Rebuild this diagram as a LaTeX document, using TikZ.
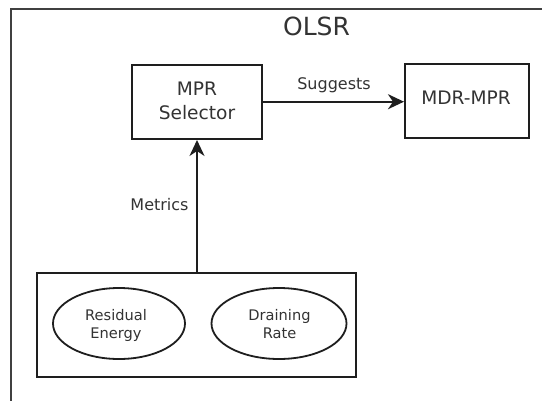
\documentclass[tikz,border=0pt]{standalone}
\usepackage{fontspec}
\setmainfont{DejaVu Sans}
\usetikzlibrary{arrows.meta,calc,shapes.geometric}
\definecolor{linec}{HTML}{1E1E1E}
\definecolor{textc}{HTML}{333333}
\begin{document}
\begin{tikzpicture}[x=1pt,y=-1pt,
  box/.style={draw=linec, line width=2pt, inner sep=0pt},
  oval/.style={draw=linec, line width=1.8pt, ellipse, inner sep=0pt},
  txt/.style={text=textc, inner sep=0pt, anchor=base},
  big/.style={txt, font=\fontsize{25}{30}\selectfont},
  mid/.style={txt, font=\fontsize{18.6}{24}\selectfont},
  lbl/.style={txt, font=\fontsize{16}{19}\selectfont},
  sml/.style={txt, font=\fontsize{14.6}{18}\selectfont},
  conn/.style={draw=linec, line width=2pt, -{Stealth[length=16pt,width=15pt,inset=5pt]}},
  frame/.style={draw=black!75, line width=1.6pt}
]
\useasboundingbox (0,0) rectangle (542,400);
\fill[white] (0,0) rectangle (542,400);
% outer frame (cut off at right and bottom)
\draw[frame] (10.8,401) -- (10.8,9.2) -- (543,9.2);

\node[big] (olsr) at (316.5,35) {OLSR};

% MPR Selector
\node[box, minimum width=129.4pt, minimum height=74pt] (mpr) at (197,102) {};
\node[mid] (mpr1) at (197,95) {MPR};
\node[mid] (mpr2) at (197,119) {Selector};

% MDR-MPR
\node[box, minimum width=124pt, minimum height=73.7pt] (mdr) at (467,100.9) {};
\node[mid] (mdrt) at (466,104.3) {MDR-MPR};

% bottom box with ellipses
\node[box, minimum width=318.4pt, minimum height=104pt] (bot) at (196.5,325.3) {};
\node[oval, minimum width=132pt, minimum height=71pt] (res) at (119,323.5) {};
\node[sml] (res1) at (116,320) {Residual};
\node[sml] (res2) at (116,338.4) {Energy};
\node[oval, minimum width=135pt, minimum height=71pt] (drn) at (279,323.5) {};
\node[sml] (drn1) at (279.5,320) {Draining};
\node[sml] (drn2) at (279.5,338.4) {Rate};

% connectors
\draw[conn] ($(mpr.east)+(0,-0.3)$) -- ($(mpr.east -| mdr.west)+(0,-0.3)$);
\node[lbl] (sug) at (334,89) {Suggests};
\draw[conn] (bot.north -| mpr.south) -- (mpr.south);
\node[lbl] (met) at (159.5,210) {Metrics};
\end{tikzpicture}
\end{document}
